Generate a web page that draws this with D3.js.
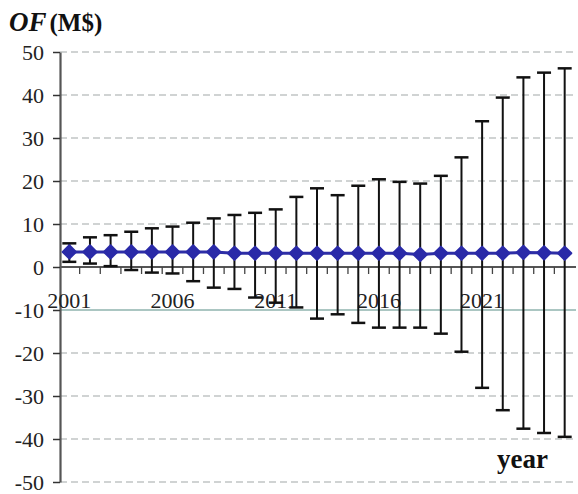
<!DOCTYPE html>
<html>
<head>
<meta charset="utf-8">
<script src="https://cdn.jsdelivr.net/npm/d3@7"></script>
<style>
  html, body { margin: 0; padding: 0; background: #fff; }
  svg { display: block; }
</style>
</head>
<body>
<svg id="chart" width="578" height="494"></svg>
<script>
const years = d3.range(2001, 2026);
const meanValues = [3.5, 3.5, 3.5, 3.5, 3.5, 3.5, 3.5, 3.5, 3.2, 3.2, 3.2, 3.2, 3.2, 3.2, 3.2, 3.2, 3.2, 2.9, 3.2, 3.2, 3.2, 3.2, 3.4, 3.3, 3.2];
const upperValues = [5.5, 6.9, 7.4, 8.2, 9.0, 9.4, 10.3, 11.3, 12.1, 12.6, 13.4, 16.3, 18.3, 16.7, 18.9, 20.4, 19.8, 19.4, 21.2, 25.5, 33.9, 39.4, 44.1, 45.2, 46.2];
const lowerValues = [1.2, 0.8, 0.2, -0.7, -1.3, -1.5, -3.3, -4.8, -5.1, -7.1, -8.3, -9.4, -12.0, -11.0, -13.0, -14.1, -14.1, -14.1, -15.5, -19.7, -28.1, -33.3, -37.6, -38.6, -39.5];
const yTicks = [-50, -40, -30, -20, -10, 0, 10, 20, 30, 40, 50];
const xLabelYears = [2001, 2006, 2011, 2016, 2021];

const data = years.map((yr, i) => ({ year: yr, mean: meanValues[i], hi: upperValues[i], lo: lowerValues[i] }));

const svg = d3.select("#chart");
const font = "'Liberation Serif', 'Times New Roman', serif";

const x = d3.scaleBand().domain(years).range([59, 575]).padding(0);
const y = d3.scaleLinear().domain([-50, 50]).range([482, 52]);
const axisX = 60;

// gridlines
svg.append("g").selectAll("line")
  .data(yTicks.filter(v => v !== 0))
  .join("line")
  .attr("x1", axisX).attr("x2", 576)
  .attr("y1", d => y(d)).attr("y2", d => y(d))
  .attr("stroke", d => d === -10 ? "#8fb3ae" : "#a2a8a8")
  .attr("stroke-width", d => d === -10 ? 1.5 : 1.2)
  .attr("stroke-dasharray", d => d === -10 ? null : "7,4");

// y axis
const yAxis = svg.append("g")
  .attr("transform", `translate(${axisX},0)`)
  .call(d3.axisLeft(y).tickValues(yTicks).tickSize(7).tickSizeOuter(0).tickPadding(9)
    .tickFormat(d => String(d)));
yAxis.select(".domain").attr("stroke", "#555").attr("stroke-width", 2.2);
yAxis.selectAll(".tick line").attr("stroke", "#333").attr("stroke-width", 1.5);
yAxis.selectAll(".tick text").attr("font-family", font).attr("font-size", 22).attr("fill", "#222");

// x axis line at zero
svg.append("line")
  .attr("x1", axisX).attr("x2", 576)
  .attr("y1", y(0)).attr("y2", y(0))
  .attr("stroke", "#555").attr("stroke-width", 2);

// category boundary ticks
svg.append("g").selectAll("line")
  .data(years.slice(1))
  .join("line")
  .attr("x1", d => x(d)).attr("x2", d => x(d))
  .attr("y1", y(0)).attr("y2", y(0) + 7)
  .attr("stroke", "#444").attr("stroke-width", 1.3);

// x labels via axis
const xAxis = svg.append("g")
  .attr("transform", `translate(0,${y(0)})`)
  .call(d3.axisBottom(x).tickValues(xLabelYears).tickSize(0).tickPadding(25));
xAxis.select(".domain").remove();
xAxis.selectAll(".tick text").attr("font-family", font).attr("font-size", 22).attr("fill", "#222");

// error bars
const capW = 14;
const cx = d => x(d.year) + x.bandwidth() / 2;
const eb = svg.append("g").attr("stroke", "#111").attr("stroke-width", 2);
eb.selectAll("line.v").data(data).join("line").attr("class", "v")
  .attr("x1", cx).attr("x2", cx)
  .attr("y1", d => y(d.hi)).attr("y2", d => y(d.lo));
eb.selectAll("line.t").data(data).join("line").attr("class", "t")
  .attr("x1", d => cx(d) - capW / 2).attr("x2", d => cx(d) + capW / 2)
  .attr("y1", d => y(d.hi)).attr("y2", d => y(d.hi)).attr("stroke-width", 2.5);
eb.selectAll("line.b").data(data).join("line").attr("class", "b")
  .attr("x1", d => cx(d) - capW / 2).attr("x2", d => cx(d) + capW / 2)
  .attr("y1", d => y(d.lo)).attr("y2", d => y(d.lo)).attr("stroke-width", 2.5);

// mean line
const line = d3.line().x(cx).y(d => y(d.mean));
svg.append("path").datum(data)
  .attr("d", line).attr("fill", "none")
  .attr("stroke", "#2e2ea6").attr("stroke-width", 3);

// markers (diamonds)
svg.append("g").selectAll("path")
  .data(data).join("path")
  .attr("transform", d => `translate(${cx(d)},${y(d.mean)}) rotate(45)`)
  .attr("d", d3.symbol().type(d3.symbolSquare).size(88))
  .attr("fill", "#2a2aa8").attr("stroke", "#2a2aa8").attr("stroke-width", 2).attr("stroke-linejoin", "round");

// title
const title = svg.append("text").attr("x", 9).attr("y", 31)
  .attr("font-family", font).attr("font-weight", "bold").attr("fill", "#111");
title.append("tspan").attr("font-style", "italic").attr("font-size", 27).text("OF");
title.append("tspan").attr("font-size", 25).attr("dx", 3).text("(M$)");

// x axis title
svg.append("text").attr("x", 497).attr("y", 468)
  .attr("font-family", font).attr("font-weight", "bold").attr("font-size", 27)
  .attr("fill", "#111").text("year");
</script>
</body>
</html>
